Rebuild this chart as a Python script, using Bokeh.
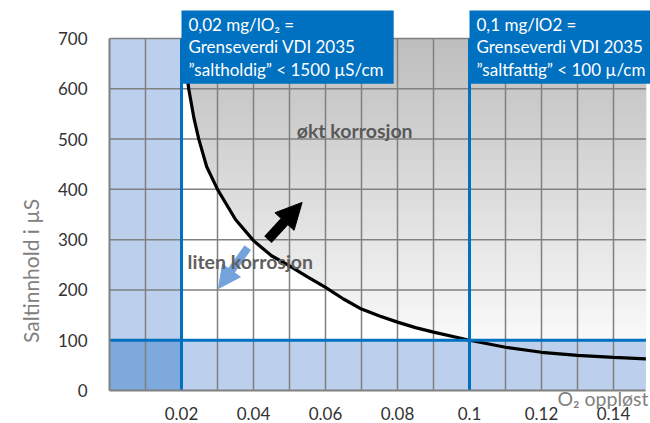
import numpy as np
from bokeh.plotting import figure
from bokeh.models import Range1d, FixedTicker, Arrow, NormalHead, Label
from bokeh.embed import file_html
from bokeh.resources import INLINE

# ---- data ----
curve_x = [0.0200, 0.0203, 0.0210, 0.0220, 0.0235, 0.0248, 0.0270, 0.0300, 0.0350,
           0.0400, 0.0450, 0.0500, 0.0550, 0.0600, 0.0650, 0.0700, 0.0750, 0.0800,
           0.0850, 0.0900, 0.1000, 0.1100, 0.1200, 0.1300, 0.1400, 0.1490]
curve_y = [760, 700, 660, 600, 540, 500, 445, 400, 340,
           298, 268, 248, 226, 205, 182, 162, 148, 136,
           125, 116, 100, 86, 76, 70, 66, 63]

x_ticks = [0.02, 0.04, 0.06, 0.08, 0.10, 0.12, 0.14]
x_tick_labels = ["0.02", "0.04", "0.06", "0.08", "0.1", "0.12", "0.14"]
y_ticks = [0, 100, 200, 300, 400, 500, 600, 700]
x_grid = [0.01, 0.02, 0.03, 0.04, 0.05, 0.06, 0.07, 0.08, 0.09, 0.10, 0.11, 0.12, 0.13, 0.14]

o2_limits = [0.02, 0.1]      # mg/l O2
salt_limit = 100             # µS
x_max = 0.149
y_max = 700

box1_text = "0,02 mg/lO\u2082 =\nGrenseverdi VDI 2035\n\u201dsaltholdig\u201d < 1500 \u00b5S/cm"
box2_text = "0,1 mg/lO2 =\nGrenseverdi VDI 2035\n\u201dsaltfattig\u201d < 100 \u00b5/cm"
y_title = "Saltinnhold i \u00b5S"
x_title = "O\u2082 oppl\u00f8st"
high_text = "\u00f8kt korrosjon"
low_text = "liten korrosjon"

FONT = "Lato"
LIGHT_BLUE = "#bccfec"
DARK_BLUE = "#7ea9dc"
MID_BLUE = "#0070c0"
ARROW_BLUE = "#74a3dc"
GRID = "#808080"

W, H = 650, 423
X0_PX, Y0_PX = 109, 390                 # pixel of data origin
PX_PER_X = 3600.0                       # pixels per x unit
PX_PER_Y = (Y0_PX - 38) / y_max         # pixels per y unit

x_range = Range1d(-X0_PX / PX_PER_X, (W - X0_PX) / PX_PER_X)
y_range = Range1d(-(H - Y0_PX) / PX_PER_Y, Y0_PX / PX_PER_Y)

p = figure(width=W, height=H, output_backend="svg", toolbar_location=None,
           x_range=x_range, y_range=y_range,
           min_border_left=0, min_border_right=0, min_border_top=0, min_border_bottom=0)
p.outline_line_color = None
p.xgrid.visible = False
p.ygrid.visible = False

# gradient background (upper right region)
edges = np.linspace(salt_limit, y_max, 61)
mids = (edges[:-1] + edges[1:]) / 2
vals = 250 - (mids - salt_limit) / (y_max - salt_limit) * 60
cols = ["#%02x%02x%02x" % (int(v), int(v), int(v)) for v in vals]
p.quad(left=o2_limits[0], right=x_max, bottom=edges[:-1], top=edges[1:],
       fill_color=cols, line_color=cols, line_width=1)

# white region below curve
wx = [x for x in curve_x if x <= o2_limits[1]]
wy = np.minimum(np.array(curve_y[:len(wx)], dtype=float), y_max)
p.varea(x=wx, y1=salt_limit, y2=wy, fill_color="white")

# blue regions
p.quad(left=0, right=o2_limits[0], bottom=salt_limit, top=y_max, fill_color=LIGHT_BLUE, line_color=None)
p.quad(left=o2_limits[0], right=x_max, bottom=0, top=salt_limit, fill_color=LIGHT_BLUE, line_color=None)
p.quad(left=0, right=o2_limits[0], bottom=0, top=salt_limit, fill_color=DARK_BLUE, line_color=None)

# grid
p.segment(x0=x_grid, y0=0, x1=x_grid, y1=y_max, line_color=GRID, line_width=1.5)
p.segment(x0=0, y0=y_ticks[1:], x1=x_max, y1=y_ticks[1:], line_color=GRID, line_width=1.5)

# curve (clipped at the top of the chart area)
cx = [x for x, y in zip(curve_x, curve_y) if y <= y_max]
cy = [y for y in curve_y if y <= y_max]
p.line(cx, cy, line_color="black", line_width=3.2)

# limit lines
p.segment(x0=o2_limits, y0=0, x1=o2_limits, y1=y_max, line_color=MID_BLUE, line_width=3)
p.segment(x0=0, y0=salt_limit, x1=x_max, y1=salt_limit, line_color=MID_BLUE, line_width=3)

# arrows
p.add_layout(Arrow(end=NormalHead(size=26, fill_color="black", line_color="black"),
                   x_start=0.0440, y_start=300, x_end=0.0535, y_end=374,
                   line_color="black", line_width=10))
p.add_layout(Arrow(end=NormalHead(size=22, fill_color=ARROW_BLUE, line_color=ARROW_BLUE),
                   x_start=0.0384, y_start=284, x_end=0.0303, y_end=203,
                   line_color=ARROW_BLUE, line_width=8))

# region labels
p.add_layout(Label(x=0.0520, y=517, text=high_text, text_font=FONT,
                   text_font_size="19.5px", text_font_style="bold", text_color="#595959",
                   text_baseline="middle", text_align="left"))
p.add_layout(Label(x=0.0217, y=256, text=low_text, text_font=FONT,
                   text_font_size="19.5px", text_font_style="bold", text_color="#606060",
                   text_baseline="middle", text_align="left"))

# boxes
box_top = (Y0_PX - 10) / PX_PER_Y
for xb, txt in [(o2_limits[0], box1_text), (o2_limits[1], box2_text)]:
    p.add_layout(Label(x=xb, y=box_top, text=txt, text_font=FONT, text_font_size="17px",
                       text_color="white", text_align="left", text_baseline="top",
                       text_line_height=1.08,
                       background_fill_color=MID_BLUE,
                       padding=dict(left=7, right=10, top=3, bottom=4)))

# axis titles
p.add_layout(Label(x=(30 - X0_PX) / PX_PER_X, y=238, text=y_title, text_font=FONT,
                   text_font_size="21px", text_color="#808080", angle=np.pi / 2,
                   text_align="center", text_baseline="middle"))
p.add_layout(Label(x=(648 - X0_PX) / PX_PER_X, y=-16, text=x_title, text_font=FONT,
                   text_font_size="19.5px", text_color="#808080",
                   text_align="right", text_baseline="middle"))

# axes at the data origin
p.xaxis.fixed_location = 0
p.yaxis.fixed_location = 0
p.xaxis.bounds = (0, x_max)
p.yaxis.bounds = (0, y_max)
p.xaxis.ticker = FixedTicker(ticks=x_ticks)
p.xaxis.major_label_overrides = {t: l for t, l in zip(x_ticks, x_tick_labels)}
p.yaxis.ticker = FixedTicker(ticks=y_ticks)
for ax in (p.xaxis, p.yaxis):
    ax.axis_line_color = GRID
    ax.axis_line_width = 2
    ax.major_tick_line_color = None
    ax.minor_tick_line_color = None
    ax.major_label_text_font = FONT
    ax.major_label_text_font_size = "17px"
    ax.major_label_text_color = "#333333"
p.xaxis.major_label_standoff = 10
p.yaxis.major_label_standoff = 16

open("out.html", "w").write(file_html(p, INLINE))
